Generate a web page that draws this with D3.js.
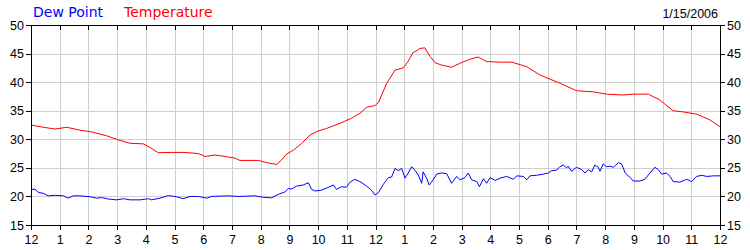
<!DOCTYPE html>
<html>
<head>
<meta charset="utf-8">
<script src="https://cdn.jsdelivr.net/npm/d3@7"></script>
<style>
    body { margin: 0; background: #fff; }
    .axis text { font-family: "Liberation Sans", Arial, sans-serif;
                 font-size: 12.5px; fill: #000; }
    .axis path, .axis line { stroke: #000; shape-rendering: crispEdges; }
    .grid line { stroke: #cfcfcf; shape-rendering: crispEdges; }
</style>
</head>
<body>
<script>
// Hourly chart for one day, hours 0..24 (midnight to midnight)
var hourTicks = d3.range(0, 25);
var tempTicks = [15, 20, 25, 30, 35, 40, 45, 50];

// Temperature (hour, degrees)
var tempHours = [0, 0.43, 0.84, 1.24, 1.71, 2.11, 2.64, 2.98, 3.45, 3.91,
    4.14, 4.43, 4.9, 5.36, 5.83, 6.06, 6.41, 6.76, 7.1, 7.28, 7.92, 8.15,
    8.32, 8.56, 8.73, 8.9, 9.14, 9.43, 9.72, 10.0, 10.3, 10.76, 11.17, 11.46,
    11.69, 11.98, 12.1, 12.39, 12.68, 12.97, 13.13, 13.3, 13.55, 13.72, 13.9,
    14.07, 14.3, 14.65, 14.94, 15.29, 15.57, 15.87, 16.35, 16.75, 17.27,
    17.73, 18.43, 19.0, 19.58, 20.05, 20.62, 20.97, 21.5, 21.9, 22.36, 22.7,
    23.19, 23.65, 24];
var tempValues = [32.5, 32.1, 31.8, 32.1, 31.6, 31.3, 30.6, 30.0, 29.3, 29.2,
    28.6, 27.65, 27.7, 27.7, 27.5, 27.0, 27.25, 27.0, 26.7, 26.3, 26.3, 26.0,
    25.8, 25.6, 26.4, 27.4, 28.1, 29.3, 30.75, 31.45, 31.9, 32.8, 33.7, 34.55,
    35.6, 35.9, 36.4, 39.8, 42.1, 42.5, 43.6, 45.1, 45.9, 46.0, 44.5,
    43.4, 43.0, 42.6, 43.3, 44.0, 44.4, 43.6, 43.5, 43.5, 42.7,
    41.25, 39.8, 38.5, 38.3, 37.9, 37.75, 37.9, 37.9, 36.9, 35.0, 34.8,
    34.4, 33.4, 32.2];

// Dew point (hour, degrees)
var dewHours = [0, 0.14, 0.26, 0.43, 0.6, 0.84, 1.13, 1.3, 1.47, 1.7, 2.05,
    2.29, 2.46, 2.69, 2.98, 3.22, 3.45, 3.8, 4.09, 4.2, 4.49, 4.78, 5.07, 5.3,
    5.54, 5.83, 6.12, 6.29, 6.87, 7.22, 7.8, 8.09, 8.38, 8.61, 8.85, 8.96,
    9.08, 9.25, 9.48, 9.66, 9.77, 9.89, 10.12, 10.36, 10.53, 10.64, 10.82,
    10.99, 11.1, 11.28, 11.46, 11.69, 11.86, 11.98, 12.1, 12.27, 12.45, 12.56,
    12.68, 12.79, 12.91, 13.03, 13.14, 13.26, 13.37, 13.49, 13.61, 13.66,
    13.78, 13.87, 14.01, 14.13, 14.3, 14.48, 14.65, 14.83, 14.94, 15.12,
    15.23, 15.35, 15.53, 15.62, 15.76, 15.87, 15.99, 16.17, 16.34, 16.57,
    16.8, 16.92, 17.15, 17.27, 17.38, 17.61, 17.84, 18.02, 18.13, 18.31,
    18.42, 18.54, 18.66, 18.71, 18.83, 19.0, 19.18, 19.3, 19.41, 19.53, 19.64,
    19.76, 19.82, 19.93, 20.05, 20.17, 20.28, 20.46, 20.57, 20.7, 20.87,
    20.98, 21.21, 21.38, 21.56, 21.73, 21.85, 21.97, 22.14, 22.26, 22.37,
    22.6, 22.84, 23.01, 23.19, 23.36, 23.54, 23.77, 24];
var dewValues = [21.25, 21.25, 20.7, 20.55, 20.1, 20.2, 20.1, 19.7, 20.1, 20.1,
    19.95, 19.7, 19.8, 19.55, 19.4, 19.6, 19.4, 19.4, 19.6, 19.4, 19.7, 20.15,
    19.95, 19.6, 20.0, 20.0, 19.7, 20.0, 20.1, 20.0, 20.1, 19.85, 19.75,
    20.35, 20.8, 21.4, 21.3, 21.8, 22.0, 22.4, 21.25, 20.95, 21.1, 21.6, 22.0,
    21.25, 21.7, 21.6, 22.45, 23.0, 22.6, 21.8, 21.1, 20.25, 20.65, 22.1,
    23.3, 23.4, 24.9, 24.5, 24.9, 23.2, 24.1, 25.2, 24.6, 23.75, 22.3, 24.3,
    23.2, 22.0, 22.9, 23.9, 24.1, 24.0, 22.3, 23.5, 22.9, 23.3, 24.1, 22.9,
    22.6, 21.7, 23.1, 22.3, 23.3, 22.8, 23.2, 23.5, 23.0, 23.6, 23.5, 22.9,
    23.6, 23.7, 23.9, 24.1, 24.5, 24.6, 25.2, 25.5, 25.0, 25.3, 24.4, 25.1,
    24.7, 24.1, 24.7, 24.3, 25.5, 25.1, 24.4, 25.7, 25.2, 25.3, 25.1, 25.9,
    25.7, 24.1, 23.3, 22.7, 22.7, 23.0, 24.1, 25.1, 24.7, 23.9, 24.1, 23.5,
    22.6, 22.5, 23.0, 22.6, 23.5, 23.7, 23.5, 23.6, 23.6];

var W = 750, H = 250;
var plot = {left: 31, right: 720, top: 25, bottom: 225};

var svg = d3.select("body").append("svg")
    .attr("width", W)
    .attr("height", H);

var xScale = d3.scaleLinear().domain([0, 24])
    .range([plot.left, plot.right]);
var yScale = d3.scaleLinear().domain([15, 50])
    .range([plot.bottom, plot.top]);

// grid lines
var grid = svg.append("g").attr("class", "grid");
grid.selectAll("line.v")
    .data(hourTicks.slice(1, -1))
    .enter().append("line")
    .attr("class", "v")
    .attr("x1", function (d) { return Math.round(xScale(d)) + 0.5; })
    .attr("x2", function (d) { return Math.round(xScale(d)) + 0.5; })
    .attr("y1", plot.top)
    .attr("y2", plot.bottom);
grid.selectAll("line.h")
    .data(tempTicks.slice(1, -1))
    .enter().append("line")
    .attr("class", "h")
    .attr("x1", plot.left)
    .attr("x2", plot.right)
    .attr("y1", function (d) { return Math.round(yScale(d)) + 0.5; })
    .attr("y2", function (d) { return Math.round(yScale(d)) + 0.5; });

// lines
var line = d3.line()
    .x(function (d) { return xScale(d[0]); })
    .y(function (d) { return yScale(d[1]); });

svg.append("path")
    .datum(d3.zip(tempHours, tempValues))
    .attr("fill", "none")
    .attr("stroke", "#ff0000")
    .attr("stroke-width", 1)
    .attr("d", line);

svg.append("path")
    .datum(d3.zip(dewHours, dewValues))
    .attr("fill", "none")
    .attr("stroke", "#0000ff")
    .attr("stroke-width", 1)
    .attr("d", line);

// axes
var hourLabel = function (d) { return (d % 12) || 12; };

svg.append("g")
    .attr("class", "axis")
    .attr("transform", "translate(0," + plot.bottom + ")")
    .call(d3.axisBottom(xScale).tickValues(hourTicks).tickFormat(hourLabel)
        .tickSizeInner(5).tickSizeOuter(0).tickPadding(5));

svg.append("g")
    .attr("class", "axis")
    .attr("transform", "translate(0," + plot.top + ")")
    .call(d3.axisTop(xScale).tickValues(hourTicks).tickFormat("")
        .tickSizeInner(-5).tickSizeOuter(0));

svg.append("g")
    .attr("class", "axis")
    .attr("transform", "translate(" + plot.left + ",0)")
    .call(d3.axisLeft(yScale).tickValues(tempTicks)
        .tickSizeInner(5).tickSizeOuter(0).tickPadding(2));

svg.append("g")
    .attr("class", "axis")
    .attr("transform", "translate(" + plot.right + ",0)")
    .call(d3.axisRight(yScale).tickValues(tempTicks)
        .tickSizeInner(5).tickSizeOuter(0).tickPadding(2));

// legend and date
var legend = svg.append("text")
    .attr("x", 33)
    .attr("y", 17)
    .attr("font-family", "DejaVu Sans, sans-serif")
    .attr("font-size", "14px");
legend.append("tspan").attr("fill", "#0000ff").text("Dew Point");
legend.append("tspan").attr("x", 124).attr("fill", "#ff0000")
    .text("Temperature");

svg.append("text")
    .attr("x", 718)
    .attr("y", 18)
    .attr("text-anchor", "end")
    .attr("font-family", "Liberation Sans, Arial, sans-serif")
    .attr("font-size", "12.5px")
    .text("1/15/2006");
</script>
</body>
</html>
